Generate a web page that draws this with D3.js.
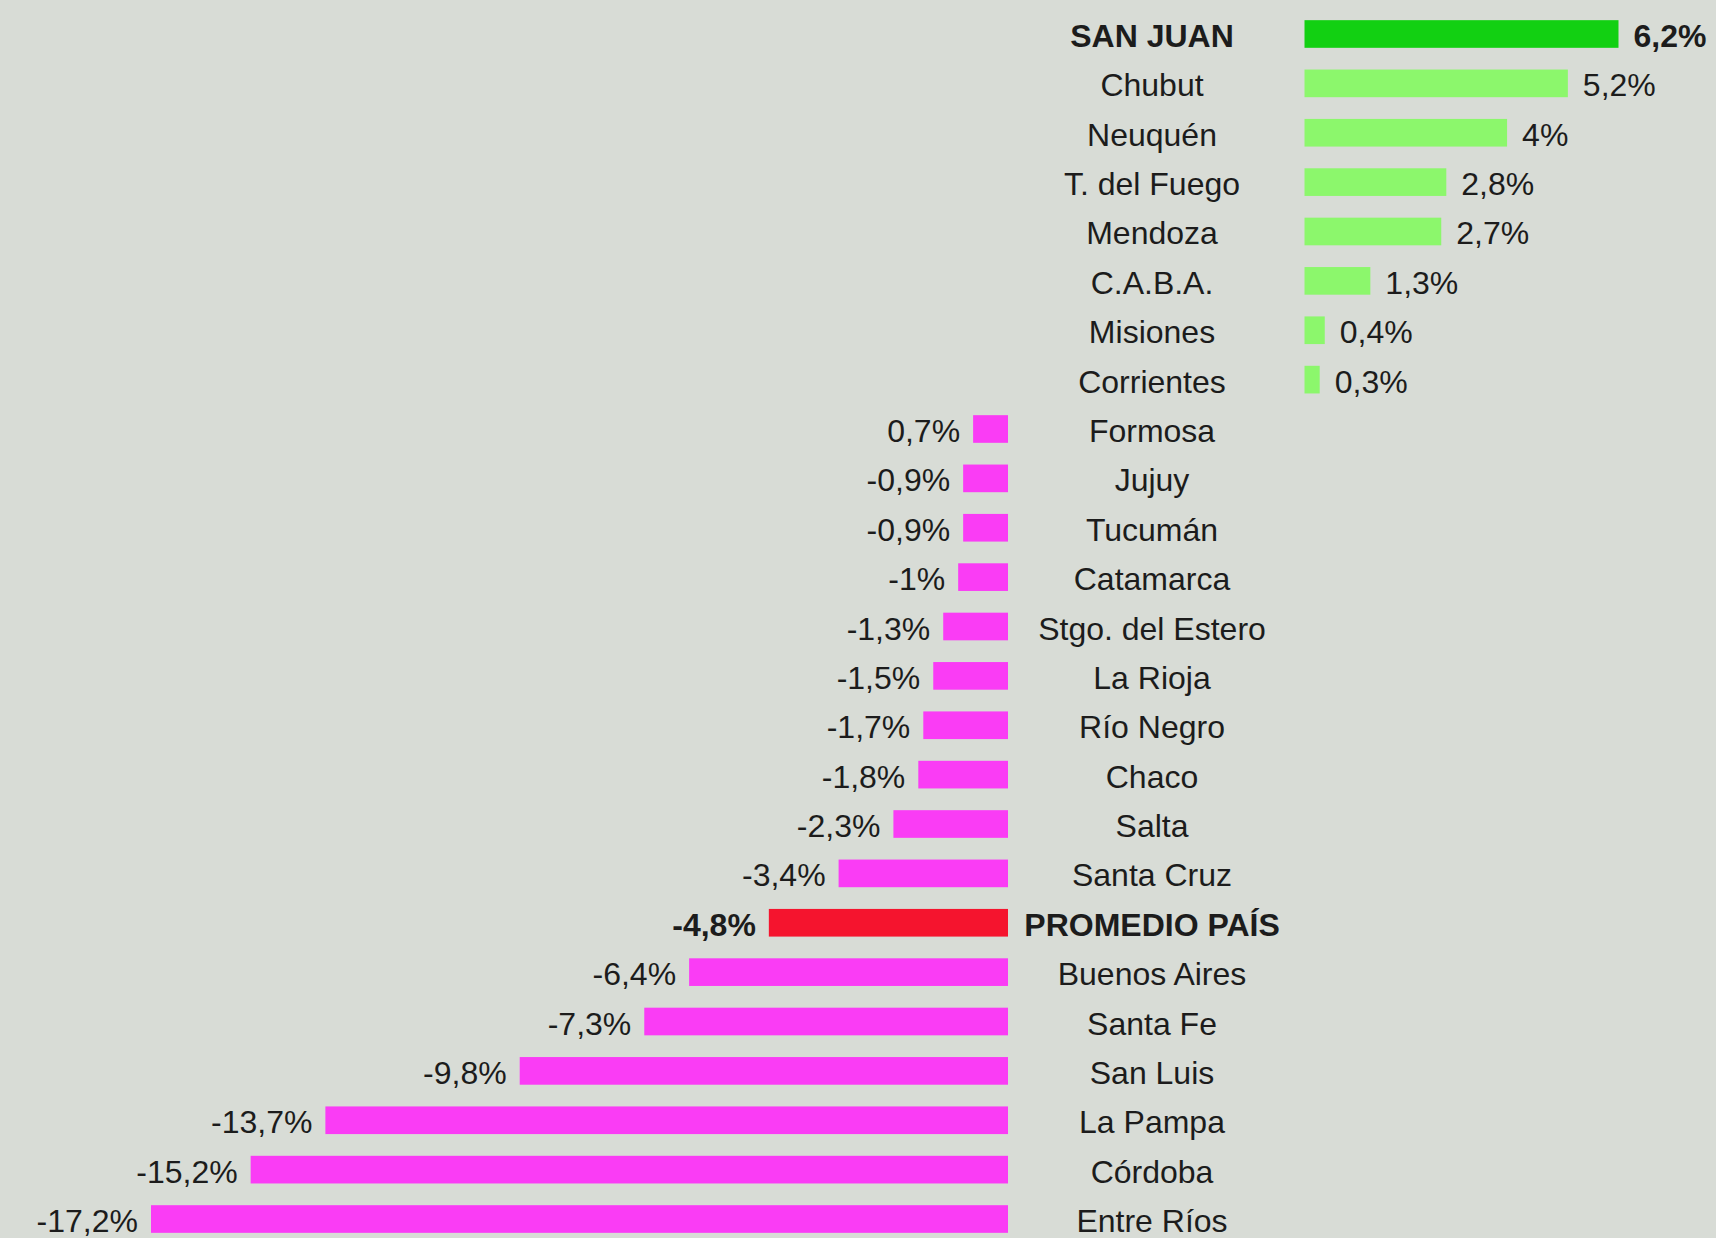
<!DOCTYPE html>
<html>
<head>
<meta charset="utf-8">
<script src="https://cdn.jsdelivr.net/npm/d3@7"></script>
<style>
  html, body { margin: 0; padding: 0; background: #d8dcd6; }
  svg { display: block; }
  text { font-family: "Liberation Sans", Arial, sans-serif; fill: #1c1c1c; }
</style>
</head>
<body>
<svg id="chart" width="1716" height="1238"></svg>
<script>
// Data
const positiveCategories = ["SAN JUAN", "Chubut", "Neuquén", "T. del Fuego", "Mendoza", "C.A.B.A.", "Misiones", "Corrientes"];
const positiveValues = [6.2, 5.2, 4, 2.8, 2.7, 1.3, 0.4, 0.3];
const positiveLabels = ["6,2%", "5,2%", "4%", "2,8%", "2,7%", "1,3%", "0,4%", "0,3%"];

const negativeCategories = ["Formosa", "Jujuy", "Tucumán", "Catamarca", "Stgo. del Estero", "La Rioja", "Río Negro", "Chaco", "Salta", "Santa Cruz", "PROMEDIO PAÍS", "Buenos Aires", "Santa Fe", "San Luis", "La Pampa", "Córdoba", "Entre Ríos"];
const negativeValues = [-0.7, -0.9, -0.9, -1, -1.3, -1.5, -1.7, -1.8, -2.3, -3.4, -4.8, -6.4, -7.3, -9.8, -13.7, -15.2, -17.2];
const negativeLabels = ["0,7%", "-0,9%", "-0,9%", "-1%", "-1,3%", "-1,5%", "-1,7%", "-1,8%", "-2,3%", "-3,4%", "-4,8%", "-6,4%", "-7,3%", "-9,8%", "-13,7%", "-15,2%", "-17,2%"];

const highlightTop = "SAN JUAN";
const highlightAvg = "PROMEDIO PAÍS";

const svg = d3.select("#chart");

const allCategories = positiveCategories.concat(negativeCategories);
const rows = positiveCategories.map((c, i) => ({ cat: c, value: positiveValues[i], label: positiveLabels[i] }))
  .concat(negativeCategories.map((c, i) => ({ cat: c, value: negativeValues[i], label: negativeLabels[i] })));

const y = d3.scaleBand()
  .domain(allCategories)
  .range([9.3, 1243.7])
  .paddingInner(0.44)
  .paddingOuter(0.22);

const xPos = d3.scaleLinear().domain([0, 6.2]).range([1304.5, 1618.5]);
const xNeg = d3.scaleLinear().domain([-17.2, 0]).range([151, 1008]);

const colorOf = d => {
  if (d.cat === highlightTop) return "#12d012";
  if (d.cat === highlightAvg) return "#f5142e";
  return d.value > 0 ? "#8cf76c" : "#fa3cf5";
};

const labelX = 1152;
const fontSize = 32;
const textDy = 13;

const g = svg.append("g");

// bars
g.selectAll("rect.bar")
  .data(rows)
  .join("rect")
  .attr("class", "bar")
  .attr("x", d => d.value > 0 ? xPos(0) : xNeg(d.value))
  .attr("width", d => d.value > 0 ? xPos(d.value) - xPos(0) : xNeg(0) - xNeg(d.value))
  .attr("y", d => y(d.cat))
  .attr("height", y.bandwidth())
  .attr("fill", colorOf);

// category labels
g.selectAll("text.cat")
  .data(rows)
  .join("text")
  .attr("class", "cat")
  .attr("x", labelX)
  .attr("y", d => y(d.cat) + y.bandwidth() / 2 + textDy)
  .attr("text-anchor", "middle")
  .style("font-size", fontSize + "px")
  .style("font-weight", d => (d.cat === highlightTop || d.cat === highlightAvg) ? "bold" : "normal")
  .text(d => d.cat);

// value labels
g.selectAll("text.val")
  .data(rows)
  .join("text")
  .attr("class", "val")
  .attr("x", d => d.value > 0 ? xPos(d.value) + 15 : xNeg(d.value) - 13)
  .attr("y", d => y(d.cat) + y.bandwidth() / 2 + textDy)
  .attr("text-anchor", d => d.value > 0 ? "start" : "end")
  .style("font-size", fontSize + "px")
  .style("font-weight", d => (d.cat === highlightTop || d.cat === highlightAvg) ? "bold" : "normal")
  .text(d => d.label);
</script>
</body>
</html>
